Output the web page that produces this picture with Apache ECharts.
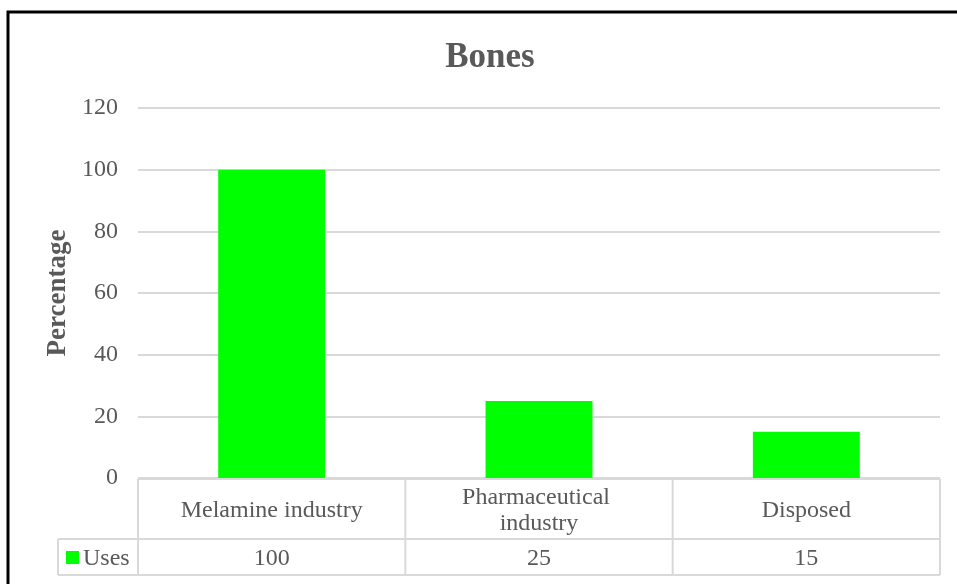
<!DOCTYPE html>
<html>
<head>
<meta charset="utf-8">
<script src="https://cdn.jsdelivr.net/npm/echarts@6/dist/echarts.min.js"></script>
<style>
html,body{margin:0;padding:0;background:#fff;}
#c{width:957px;height:584px;}
</style>
</head>
<body>
<div id="c"></div>
<script>
const categories = ['Melamine industry', 'Pharmaceutical industry', 'Disposed'];
const seriesName = 'Uses';
const values = [100, 25, 15];
const yTicks = { min: 0, max: 120, interval: 20 };

const FONT = '"Liberation Serif", "Times New Roman", serif';
const TXT = '#595959';
const LINE = '#d9d9d9';
const GREEN = '#00ff00';

const chart = echarts.init(document.getElementById('c'), null, { renderer: 'canvas' });

const option = {
  animation: false,
  backgroundColor: '#fff',
  title: {
    text: 'Bones',
    left: 485, textAlign: 'center', top: 35,
    textStyle: { fontFamily: FONT, fontSize: 35, fontWeight: 'bold', color: TXT }
  },
  grid: { left: 138, right: 17, top: 108, bottom: 106, containLabel: false },
  xAxis: {
    type: 'category',
    data: categories,
    axisLine: { show: false },
    axisTick: { show: false },
    axisLabel: {
      interval: 0, margin: 33, verticalAlign: 'middle',
      width: 200, overflow: 'break', lineHeight: 26,
      fontFamily: FONT, fontSize: 24, color: TXT
    }
  },
  yAxis: {
    type: 'value',
    min: yTicks.min, max: yTicks.max, interval: yTicks.interval,
    name: 'Percentage', nameLocation: 'middle', nameGap: 66, nameMoveOverlap: false,
    nameTextStyle: { fontFamily: FONT, fontSize: 27, fontWeight: 'bold', color: TXT },
    axisLine: { show: false }, axisTick: { show: false },
    axisLabel: { margin: 20, fontFamily: FONT, fontSize: 24, color: TXT, padding: [3, 0, 0, 0] },
    splitLine: { lineStyle: { color: LINE, width: 2 } }
  },
  series: [{
    name: seriesName, type: 'bar', data: values,
    barWidth: '40%', itemStyle: { color: GREEN }
  }]
};
chart.setOption(option);

function buildTable() {
  const n = categories.length;
  const x0 = chart.convertToPixel({ gridIndex: 0 }, [0, 0]);
  const x1 = chart.convertToPixel({ gridIndex: 0 }, [1, 0]);
  const band = x1[0] - x0[0];
  const left = x0[0] - band / 2;
  const right = left + band * n;
  const yTop = x0[1] + 1;
  const yMid = yTop + 60;
  const yBot = yMid + 36;
  const legendLeft = left - 80;
  const els = [];
  const ln = (a, b, c, d) => els.push({ type: 'line', silent: true, z: 10,
    shape: { x1: a, y1: b, x2: c, y2: d }, style: { stroke: LINE, lineWidth: 2 } });
  ln(left, yTop, right, yTop);
  ln(legendLeft, yMid, right, yMid);
  ln(legendLeft, yBot, right, yBot);
  ln(legendLeft, yMid, legendLeft, yBot);
  for (let i = 0; i <= n; i++) ln(left + band * i, yTop, left + band * i, yBot);
  values.forEach((v, i) => {
    els.push({ type: 'text', silent: true, z: 11,
      style: { x: left + band * (i + 0.5), y: (yMid + yBot) / 2 + 2, text: String(v),
        align: 'center', verticalAlign: 'middle', fill: TXT, font: '24px ' + FONT } });
  });
  els.push({ type: 'rect', silent: true, z: 11,
    shape: { x: legendLeft + 8, y: yMid + 12, width: 13, height: 13 }, style: { fill: GREEN } });
  els.push({ type: 'text', silent: true, z: 11,
    style: { x: legendLeft + 25, y: (yMid + yBot) / 2 + 2, text: seriesName,
      align: 'left', verticalAlign: 'middle', fill: TXT, font: '24px ' + FONT } });
  els.push({ type: 'rect', silent: true, z: 12,
    shape: { x: 8, y: 12, width: 1200, height: 1200 },
    style: { fill: 'none', stroke: '#000', lineWidth: 3 } });
  chart.setOption({ graphic: els });
}
buildTable();
</script>
</body>
</html>
